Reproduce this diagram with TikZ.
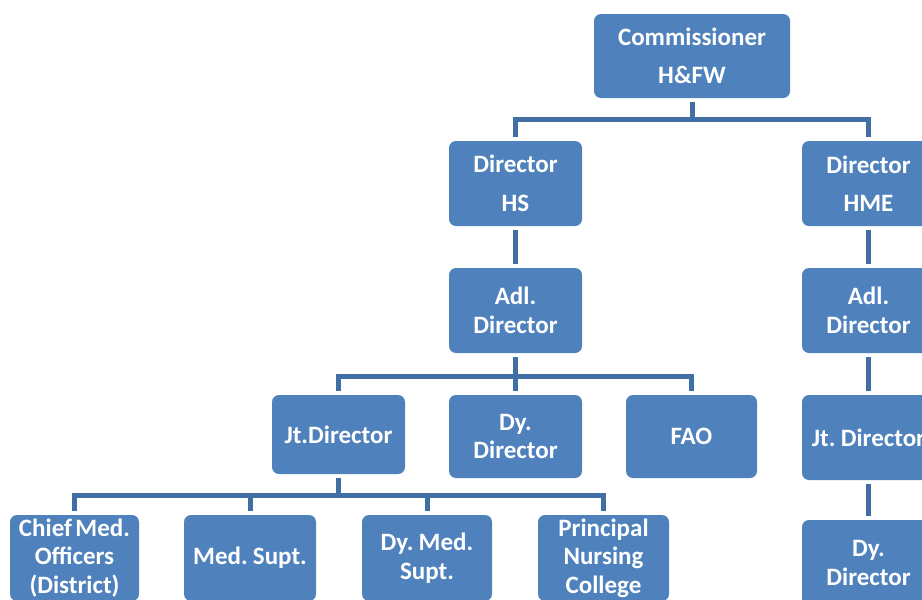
\documentclass[tikz,border=0pt]{standalone}
\usepackage{fontspec}
\setmainfont{Carlito}[WordSpace=0.6]
\definecolor{boxblue}{HTML}{4F81BD}
\definecolor{linkblue}{HTML}{416FA3}
\tikzset{
  orgbox/.style={fill=boxblue, rounded corners=7pt, inner sep=0pt, text=white,
    font=\bfseries\fontsize{25}{28.5}\selectfont, align=center},
  conn/.style={draw=linkblue, line width=5pt},
  gapboth/.style={shorten <=4pt, shorten >=4pt},
}
\begin{document}
\begin{tikzpicture}[x=1pt,y=-1pt]
\path[use as bounding box] (0,0) rectangle (922,600);
\fill[white] (0,0) rectangle (922,600);
\clip (0,0) rectangle (922,600);

% nodes
\node[orgbox, minimum width=196pt, minimum height=84pt] (comm) at (692,56) {Commissioner\\[10pt]H\&FW};
\node[orgbox, minimum width=133pt, minimum height=85pt] (dhs) at (515.5,183.5) {Director\\[10pt]HS};
\node[orgbox, minimum width=133pt, minimum height=85pt] (dhme) at (868.5,183.5) {Director\\[10pt]HME};
\node[orgbox, minimum width=133pt, minimum height=85pt] (adhs) at (515.5,310.5) {Adl.\\Director};
\node[orgbox, minimum width=133pt, minimum height=85pt] (adhme) at (868.5,310.5) {Adl.\\Director};
\node[orgbox, minimum width=133pt, minimum height=79pt] (jt) at (338.5,434.5) {Jt.Director};
\node[orgbox, minimum width=133pt, minimum height=83pt] (dy) at (515.5,436.5) {Dy.\\Director};
\node[orgbox, minimum width=131pt, minimum height=83pt] (fao) at (691.5,436.5) {FAO};
\node[orgbox, minimum width=133pt, minimum height=85pt] (jthme) at (868.5,437.5) {Jt. Director};
\node[orgbox, minimum width=129pt, minimum height=86pt] (cmo) at (74.5,558) {Chief Med.\\Officers\\(District)};
\node[orgbox, minimum width=132pt, minimum height=86pt] (ms) at (250,558) {Med. Supt.};
\node[orgbox, minimum width=130pt, minimum height=86pt] (dms) at (427,558) {Dy. Med.\\Supt.};
\node[orgbox, minimum width=131pt, minimum height=86pt] (pnc) at (603.5,558) {Principal\\Nursing\\College};
\node[orgbox, minimum width=133pt, minimum height=86pt] (dyhme) at (868.5,563) {Dy.\\Director};

% bus points
\coordinate (bus1) at (692,119);
\coordinate (bus2) at (515.5,376);
\coordinate (bus3) at (338.5,495);

% connectors
\draw[conn, shorten <=4pt] (comm.south) -- (bus1);
\draw[conn, gapboth] (dhs.north) |- (bus1) -| (dhme.north);
\draw[conn, gapboth] (dhs) -- (adhs);
\draw[conn, gapboth] (adhs) -- (dy);
\draw[conn, gapboth] (jt.north) |- (bus2) -| (fao.north);
\draw[conn, shorten <=4pt] (jt.south) -- (bus3);
\draw[conn, gapboth] (cmo.north) |- (bus3) -| (pnc.north);
\draw[conn, shorten >=4pt] (bus3 -| ms.north) -- (ms.north);
\draw[conn, shorten >=4pt] (bus3 -| dms.north) -- (dms.north);
\draw[conn, gapboth] (dhme) -- (adhme);
\draw[conn, gapboth] (adhme) -- (jthme);
\draw[conn, gapboth] (jthme) -- (dyhme);
\end{tikzpicture}
\end{document}
